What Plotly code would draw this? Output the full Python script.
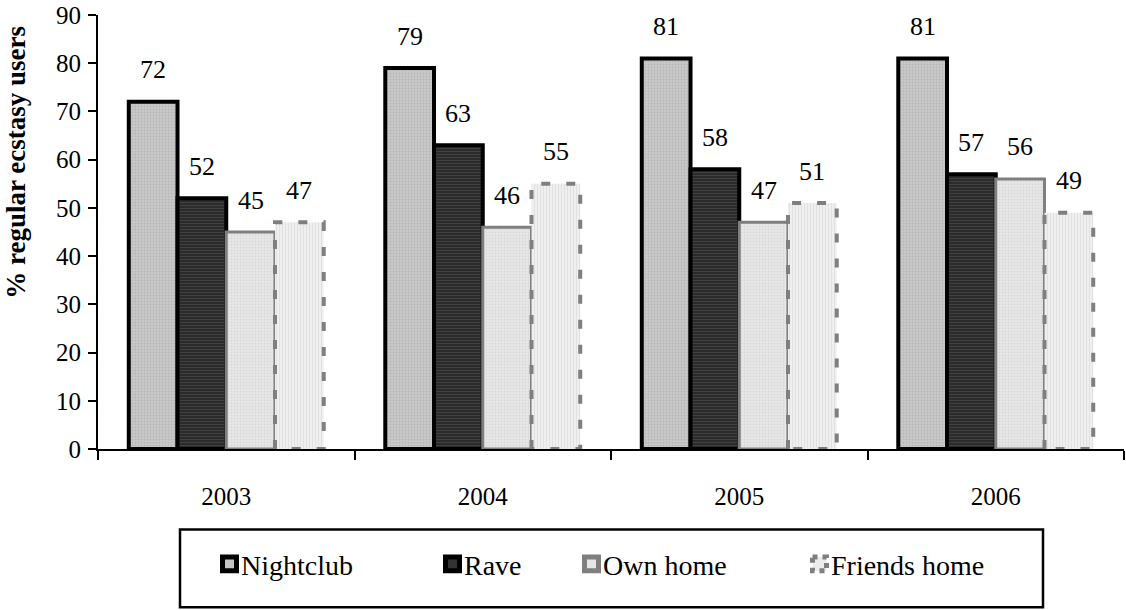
import plotly.graph_objects as go

# Survey data: share of regular ecstasy users by venue and year
years = ["2003", "2004", "2005", "2006"]
nightclub = [72, 79, 81, 81]
rave = [52, 63, 58, 57]
own_home = [45, 46, 47, 56]
friends_home = [47, 55, 51, 49]

series_names = ["Nightclub", "Rave", "Own home", "Friends home"]
y_ticks = [0, 10, 20, 30, 40, 50, 60, 70, 80, 90]

FONT = "Liberation Serif"
N = len(series_names)
BARGAP = 0.24
BAR_W = (1 - BARGAP) / N
xpos = list(range(len(years)))


def offset(k):
    return -(1 - BARGAP) / 2 + BAR_W * (k + 0.5)


styles = [
    dict(bg="#c9c9c9", fg="#a4a4a4", shape=".", size=3, line="black", lw=4),
    dict(bg="#2b2b2b", fg="#585858", shape="-", size=3, line="black", lw=4),
    dict(bg="#e7e7e7", fg="#cacaca", shape=".", size=3, line="#7f7f7f", lw=3),
    dict(bg="#efefef", fg="#d4d4d4", shape="|", size=3, line="#7f7f7f", lw=0),
]

fig = go.Figure()
for name, vals, st in zip(series_names, [nightclub, rave, own_home, friends_home], styles):
    fig.add_trace(go.Bar(
        name=name, x=xpos, y=vals,
        marker=dict(
            color=st["bg"],
            line=dict(color=st["line"], width=st["lw"]),
            pattern=dict(shape=st["shape"], bgcolor=st["bg"], fgcolor=st["fg"],
                         size=st["size"], solidity=0.35),
        ),
        showlegend=False,
    ))

# dashed outline around the "Friends home" bars
ox, oy = [], []
k = 3
for i, v in zip(xpos, friends_home):
    x0 = i + offset(k) - BAR_W / 2
    x1 = i + offset(k) + BAR_W / 2
    ox += [x0, x0, x1, x1, x0, None]
    oy += [0, v, v, 0, 0, None]
fig.add_trace(go.Scatter(x=ox, y=oy, mode="lines", showlegend=False, hoverinfo="skip",
                         line=dict(color="#7f7f7f", width=4, dash="9px,16px")))

# value labels above each bar
annotations = []
for k, vals in enumerate([nightclub, rave, own_home, friends_home]):
    for i, v in zip(xpos, vals):
        annotations.append(dict(
            x=i + offset(k), y=v, xref="x", yref="y", text=str(v),
            showarrow=False, yshift=32, yanchor="middle",
            font=dict(family=FONT, size=26, color="black"),
        ))

# page geometry helpers (pixels -> paper fractions)
L, T, R, B = 98, 15, 2, 160.5
PW, PH = 1126 - L - R, 610 - T - B


def px(xp):
    return (xp - L) / PW


def py(yp):
    return (610 - B - yp) / PH


# y-axis title
annotations.append(dict(xref="paper", yref="paper", x=px(16), y=py(163),
                        text="<b>% regular ecstasy users</b>", textangle=-90, showarrow=False,
                        xanchor="center", yanchor="middle",
                        font=dict(family=FONT, size=27, color="black")))

# legend box
shapes = [dict(type="rect", xref="paper", yref="paper",
               x0=px(180), x1=px(1043), y0=py(530), y1=py(608),
               line=dict(color="black", width=2.5), fillcolor="rgba(0,0,0,0)")]
legend_items = [(220, "Nightclub"), (443, "Rave"), (582, "Own home"), (810, "Friends home")]
sym_fill = ["#c4c4c4", "#333333", "#e6e6e6", "#ececec"]
sym_line = ["black", "black", "#7f7f7f", "#7f7f7f"]
sym_dash = ["solid", "solid", "solid", "dot"]
for (lx, label), fc, lc, ds in zip(legend_items, sym_fill, sym_line, sym_dash):
    shapes.append(dict(type="rect", xref="paper", yref="paper",
                       x0=px(lx + 2.5), x1=px(lx + 16.5), y0=py(557.5), y1=py(571.5),
                       fillcolor=fc, line=dict(color=lc, width=5, dash=ds)))
    annotations.append(dict(xref="paper", yref="paper", x=px(lx + 19), y=py(566),
                            text=label, showarrow=False,
                            xanchor="left", yanchor="middle",
                            font=dict(family=FONT, size=28, color="black")))

fig.update_layout(
    width=1126, height=610,
    margin=dict(l=L, r=R, t=T, b=B, autoexpand=False),
    paper_bgcolor="white", plot_bgcolor="white",
    barmode="group", bargap=BARGAP, bargroupgap=0,
    showlegend=False,
    annotations=annotations, shapes=shapes,
    font=dict(family=FONT, size=25, color="black"),
)
fig.update_xaxes(
    range=[-0.5, len(years) - 0.5], tickmode="array", tickvals=xpos, ticktext=years,
    ticks="", showline=True, linecolor="black", linewidth=2, showgrid=False, zeroline=False,
    tickfont=dict(family=FONT, size=25, color="black"), ticklabelstandoff=24,
    minor=dict(ticks="outside", tick0=-0.5, dtick=1, ticklen=9, tickwidth=2, tickcolor="black",
               showgrid=False),
)
fig.update_yaxes(
    range=[0, 90], tickmode="array", tickvals=y_ticks,
    ticks="outside", ticklen=8, tickwidth=2, tickcolor="black",
    showline=True, linecolor="black", linewidth=2, showgrid=False, zeroline=False,
    tickfont=dict(family=FONT, size=25, color="black"), ticklabelstandoff=2,
)

fig.write_html("out.html")
